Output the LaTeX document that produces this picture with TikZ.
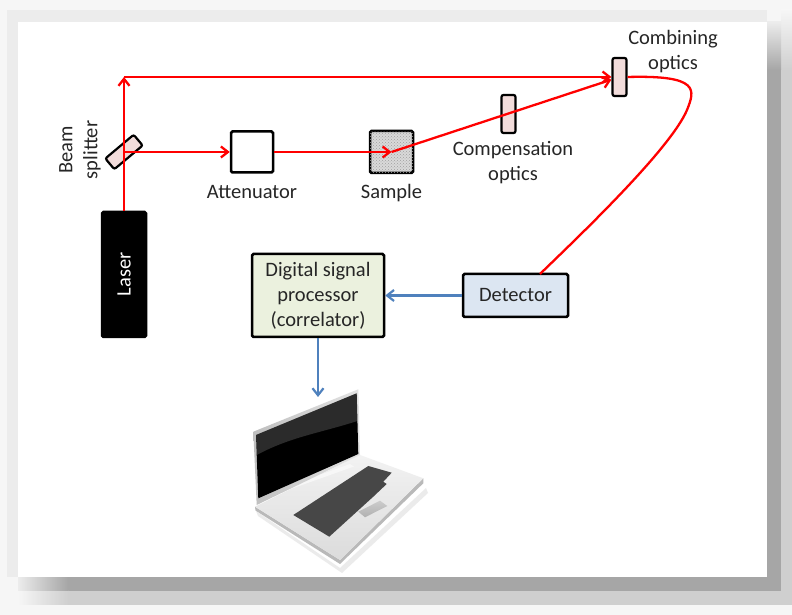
\documentclass[tikz,border=0pt]{standalone}
\usepackage{fontspec}
\setmainfont{Carlito}
\usetikzlibrary{arrows.meta,positioning,patterns}

\definecolor{beamred}{HTML}{FF0000}
\definecolor{sigblue}{HTML}{4F81BD}
\definecolor{opticpink}{HTML}{F2DCDB}
\definecolor{dspgreen}{HTML}{EBF1DE}
\definecolor{detblue}{HTML}{DCE6F2}
\definecolor{pagebg}{HTML}{F6F6F6}
\definecolor{rimgray}{HTML}{ECECEC}
\definecolor{shlight}{HTML}{CFCFCF}
\definecolor{shdark}{HTML}{A6A6A6}
\definecolor{keydark}{HTML}{474747}

\begin{document}
\begin{tikzpicture}[x=1pt,y=1pt,
  every node/.style={font=\fontsize{20.5}{25}\selectfont, text=black!85},
  box/.style={draw=black, line width=2.5pt, rounded corners=1.5pt, align=center, inner sep=0pt},
  optic/.style={draw=black, line width=2.2pt, rounded corners=2pt, fill=opticpink, minimum width=14pt, minimum height=38pt, inner sep=0pt},
  lbl/.style={align=center, inner sep=0pt},
  beam/.style={-{Straight Barb[length=7pt,width=11pt]}, draw=beamred, line width=2.3pt},
  fiber/.style={draw=beamred, line width=2.3pt},
  sig/.style={-{Straight Barb[length=7pt,width=11pt]}, draw=sigblue, line width=2.2pt}
]
% page with drop shadow
\fill[pagebg] (0,0) rectangle (792,615);
\fill[shlight] (68,10) rectangle (792,545);
\fill[shdark] (68,24) rectangle (781,545);
\shade[left color=pagebg, right color=shlight] (18,10) rectangle (68,24);
\shade[left color=rimgray, right color=shdark] (18,24) rectangle (68,38);
\shade[top color=pagebg, bottom color=shlight] (781,545) rectangle (792,605);
\shade[top color=rimgray, bottom color=shdark] (767,545) rectangle (781,593);
\fill[rimgray] (7,38) rectangle (767,605);
\fill[white] (18,38) rectangle (767,593);

% optical bench
\node[box, fill=black, minimum width=44pt, minimum height=125pt] (laser) at (124,340.5) {};
\node[rotate=90, text=white, inner sep=0pt] (laserlbl) at (laser) {Laser};
\node[optic, rotate=40, minimum width=37pt, minimum height=14pt] (bs) at (124,463) {};
\node[lbl, rotate=90] (bslbl) at (80,465) {Beam\\splitter};
\coordinate (top) at (124,538);

\node[box, fill=white, minimum width=42pt, minimum height=41pt] (att) at (252,463) {};
\node[lbl, anchor=base] (attlbl) at (252,416) {Attenuator};
\node[box, fill=gray!30, minimum width=43pt, minimum height=42pt,
  postaction={pattern=crosshatch dots, pattern color=gray!75}] (smp) at (391.5,463) {};
\node[lbl, anchor=base] (smplbl) at (391.5,416) {Sample};

\node[optic] (comp) at (508.5,501) {};
\node[lbl] (complbl) at (513,452) {Compensation\\optics};
\node[optic] (comb) at (619.5,538) {};
\node[lbl] (comblbl) at (673,563.5) {Combining\\optics};

% detection chain
\node[box, fill=detblue, minimum width=105pt, minimum height=43pt] (det) at (515.5,319.5) {Detector};
\node[box, fill=dspgreen, minimum width=132pt, minimum height=83pt] (dsp) at (318,319.5) {Digital signal\\processor\\(correlator)};
\coordinate (detin) at (540,341);
\coordinate (lap) at (318,218);

% beams
\draw[beam] (laser.north) -- (top);
\draw[beam] (top) -- (comb);
\draw[beam] (bs.center) -- (att);
\draw[beam] (att) -- (smp.center);
\draw[beam] (smp.center) -- (comb);
\draw[fiber] (comb.east) .. controls (700,540) and (695,525) .. (687,505)
  .. controls (670,465) and (575,375) .. (detin);

% signal path
\draw[sig] (det) -- (dsp);
\draw[sig] (dsp) -- (lap);

% laptop
\fill[gray!30, opacity=0.5] (256,104) -- (340,47) -- (426,127) -- (428,122) -- (342,42) -- (258,99) -- cycle;
\fill[gray!55] (255,108.3) -- (340,55) -- (423.3,136.7) -- (423.3,131.7) -- (340,51) -- (255.5,104.5) -- cycle;
\shade[top color=gray!10, bottom color=gray!28] (255,108.3) -- (360,160) -- (423.3,136.7) -- (340,55) -- cycle;
\fill[gray!6] (274,124) -- (350,151) -- (354,148.5) -- (278,121.5) -- cycle;
\fill[keydark] (293.3,100) -- (368.3,149) -- (391.7,142.3) -- (383.3,133.3) -- (386.7,131)
  -- (373.3,118.3) -- (329.3,78.3) -- cycle;
\shade[top color=gray!40, bottom color=gray!62] (358.3,103.3) -- (380,114.3) -- (387.3,109) -- (365,97.7) -- cycle;
\shade[left color=gray!50, right color=gray!22] (253.3,183.3) -- (358.3,225.7) -- (360,160) -- (256.7,110) -- cycle;
\fill[black] (256,180) -- (356.7,221.7) -- (358.3,161) -- (258.3,116.7) -- cycle;
\fill[white, opacity=0.17] (256,180) -- (356.7,221.7) -- (357.4,194)
  .. controls (320,182) and (290,178) .. (256.8,160) -- cycle;
\end{tikzpicture}
\end{document}
